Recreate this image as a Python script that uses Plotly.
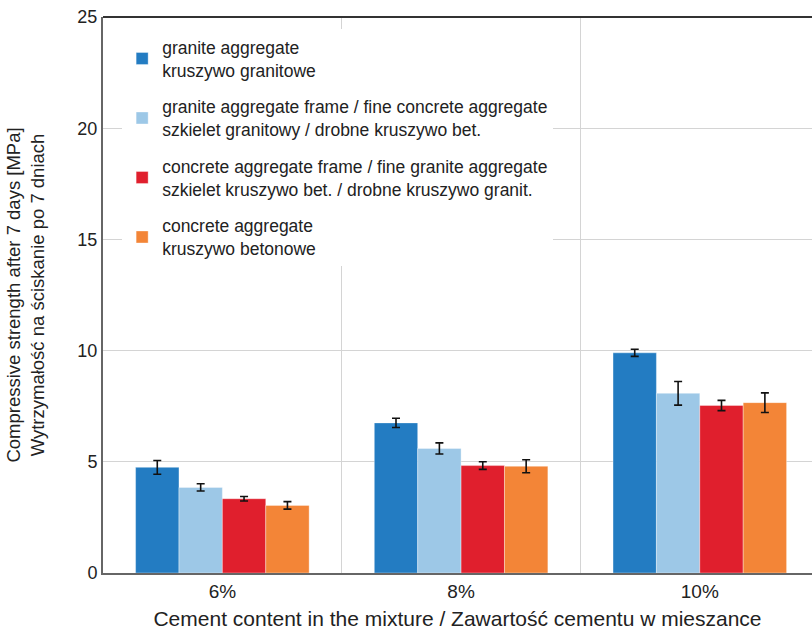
import plotly.graph_objects as go

# Cement content groups
categories = ["6%", "8%", "10%"]

# Series names (English / Polish)
series_names = [
    "granite aggregate<br>kruszywo granitowe",
    "granite aggregate frame / fine concrete aggregate<br>szkielet granitowy / drobne kruszywo bet.",
    "concrete aggregate frame / fine granite aggregate<br>szkielet kruszywo bet. / drobne kruszywo granit.",
    "concrete aggregate<br>kruszywo betonowe",
]

# Mean compressive strength after 7 days [MPa]
granite = [4.75, 6.75, 9.9]
granite_frame = [3.85, 5.6, 8.08]
concrete_frame = [3.34, 4.83, 7.53]
concrete = [3.04, 4.8, 7.66]

# Standard deviations [MPa]
granite_sd = [0.31, 0.21, 0.16]
granite_frame_sd = [0.16, 0.25, 0.53]
concrete_frame_sd = [0.1, 0.17, 0.23]
concrete_sd = [0.17, 0.29, 0.44]

values = [granite, granite_frame, concrete_frame, concrete]
errors = [granite_sd, granite_frame_sd, concrete_frame_sd, concrete_sd]
colors = ["#237cc2", "#9dc8e7", "#e01f2d", "#f38537"]

FONT = "Liberation Sans, Arial, sans-serif"

fig = go.Figure()
for i, (name, vals, errs, col) in enumerate(zip(series_names, values, errors, colors)):
    fig.add_trace(go.Bar(
        name=name,
        x=categories,
        y=vals,
        marker=dict(color=col, line=dict(color="rgba(255,255,255,0.35)", width=1)),
        error_y=dict(type="data", array=errs, visible=True,
                     color="#111111", thickness=1.6, width=4),
        legendgroup=f"g{i}",
    ))

fig.update_layout(
    width=812,
    height=631,
    margin=dict(l=103, r=0, t=17, b=58),
    paper_bgcolor="white",
    plot_bgcolor="white",
    font=dict(family=FONT, color="#222222"),
    barmode="group",
    bargap=0.273,
    bargroupgap=0,
    showlegend=True,
    legend=dict(
        x=0.027, y=0.978, xanchor="left", yanchor="top",
        bgcolor="white",
        borderwidth=0,
        font=dict(family=FONT, size=17.5, color="#222222"),
        tracegroupgap=11,
        valign="middle",
        itemwidth=30,
    ),
    xaxis=dict(
        type="category",
        range=[-0.5, 2.47],
        tickson="boundaries",
        showgrid=True,
        gridcolor="#d4d4d4",
        gridwidth=1.2,
        ticks="",
        showline=True,
        linecolor="#666666",
        linewidth=2,
        automargin=False,
        tickfont=dict(family=FONT, size=19, color="#222222"),
        title=dict(text="Cement content in the mixture / Zawartość cementu w mieszance",
                   font=dict(family=FONT, size=21, color="#222222"), standoff=11),
        zeroline=False,
    ),
    yaxis=dict(
        range=[0, 25],
        tickvals=[0, 5, 10, 15, 20, 25],
        showgrid=True,
        gridcolor="#d4d4d4",
        gridwidth=1.2,
        ticks="",
        showline=True,
        linecolor="#666666",
        linewidth=2,
        zeroline=False,
        automargin=False,
        tickfont=dict(family=FONT, size=18, color="#222222"),
        title=dict(text="Compressive strength after 7 days [MPa]<br>Wytrzymałość na ściskanie po 7 dniach",
                   font=dict(family=FONT, size=18.5, color="#222222"), standoff=28),
    ),
)

# Dark frame line along the top of the plotting area
fig.add_shape(type="line", xref="paper", yref="paper", x0=0, x1=1, y0=1, y1=1,
              line=dict(color="#333333", width=2), layer="above")

fig.write_html("out.html")
